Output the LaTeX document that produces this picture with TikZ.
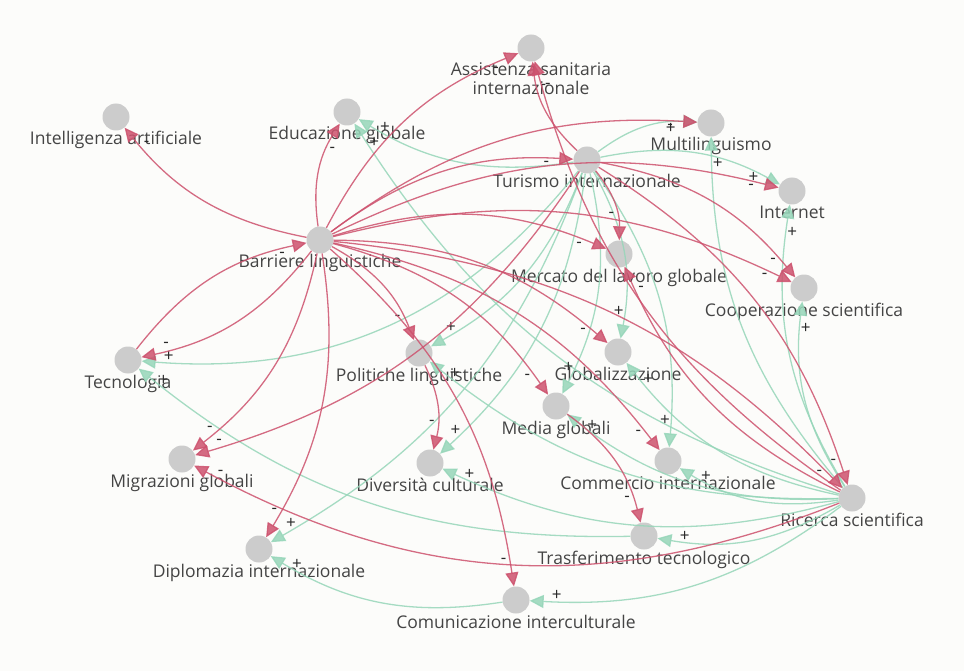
\documentclass[tikz,border=0pt]{standalone}
\usepackage{fontspec}
\setmainfont{Open Sans}
\usetikzlibrary{arrows.meta,decorations.markings}
\definecolor{bgc}{RGB}{252,252,250}
\definecolor{redE}{RGB}{205,82,110}
\definecolor{grnE}{RGB}{150,214,185}
\definecolor{nodeC}{RGB}{204,204,204}
\definecolor{txtC}{RGB}{68,68,68}
\definecolor{sgnC}{RGB}{40,40,40}
\begin{document}
\begin{tikzpicture}[x=1pt,y=-1pt,
  dot/.style={circle,fill=nodeC,minimum size=27pt,inner sep=0pt},
  lbl/.style={anchor=base,text=txtC,font=\fontsize{17.5}{20}\selectfont,inner sep=0pt},
  sgnt/.style={text=sgnC,font=\fontsize{17}{17}\selectfont,inner sep=0pt,text opacity=1},
  edgeb/.style={line width=1.3pt,-{Triangle[length=14pt,width=13pt]},opacity=0.85},
  sg/.style={postaction={decorate,decoration={markings,mark=at position -27pt with {\node[sgnt] at (0pt,-6pt) {#1};}}}},
  minuse/.style={edgeb,draw=redE,sg=-},
  pluse/.style={edgeb,draw=grnE,sg=+},
  bl/.style={bend left=#1}, bl/.default=20]
\fill[bgc] (0,0) rectangle (964,671);
\useasboundingbox (0,0) rectangle (964,671);
% nodes
\node[dot] (AS) at (531,48) {};
\node[dot] (IA) at (116,117) {};
\node[dot] (EG) at (347,112) {};
\node[dot] (ML) at (711,123) {};
\node[dot] (TI) at (587,160) {};
\node[dot] (IN) at (792,191) {};
\node[dot] (BL) at (320,240) {};
\node[dot] (MG) at (619,254) {};
\node[dot] (CS) at (804,288) {};
\node[dot] (TE) at (128,360) {};
\node[dot] (PL) at (419,353) {};
\node[dot] (GL) at (618,352) {};
\node[dot] (ME) at (556,406) {};
\node[dot] (MI) at (182,459) {};
\node[dot] (DC) at (430,463) {};
\node[dot] (CI) at (668,461) {};
\node[dot] (RS) at (852,498) {};
\node[dot] (TT) at (644,536) {};
\node[dot] (DI) at (259,549) {};
\node[dot] (CO) at (516,600) {};
% labels
\node[lbl] (AS-t1) at (531,76) {Assistenza sanitaria};
\node[lbl] (AS-t2) at (531,95) {internazionale};
\node[lbl] (IA-t) at (116,145) {Intelligenza artificiale};
\node[lbl] (EG-t) at (347,140) {Educazione globale};
\node[lbl] (ML-t) at (711,151) {Multilinguismo};
\node[lbl] (TI-t) at (587,188) {Turismo internazionale};
\node[lbl] (IN-t) at (792,219) {Internet};
\node[lbl] (BL-t) at (320,268) {Barriere linguistiche};
\node[lbl] (MG-t) at (619,282) {Mercato del lavoro globale};
\node[lbl] (CS-t) at (804,316) {Cooperazione scientifica};
\node[lbl] (TE-t) at (128,388) {Tecnologia};
\node[lbl] (PL-t) at (419,381) {Politiche linguistiche};
\node[lbl] (GL-t) at (618,380) {Globalizzazione};
\node[lbl] (ME-t) at (556,434) {Media globali};
\node[lbl] (MI-t) at (182,487) {Migrazioni globali};
\node[lbl] (DC-t) at (430,491) {Diversità culturale};
\node[lbl] (CI-t) at (668,489) {Commercio internazionale};
\node[lbl] (RS-t) at (852,526) {Ricerca scientifica};
\node[lbl] (TT-t) at (644,564) {Trasferimento tecnologico};
\node[lbl] (DI-t) at (259,577) {Diplomazia internazionale};
\node[lbl] (CO-t) at (516,628) {Comunicazione interculturale};
% green edges
\draw[pluse] (TI) to[bl] (EG);
\draw[pluse] (RS) to[bl] (EG);
\draw[pluse] (TI) to[bl] (ML);
\draw[pluse] (RS) to[bl] (ML);
\draw[pluse] (TI) to[bl] (IN);
\draw[pluse] (RS) to[bl] (IN);
\draw[pluse] (RS) to[bl] (CS);
\draw[pluse] (TI) to[bl=28] (TE);
\draw[pluse] (TT) to[bl] (TE);
\draw[pluse] (TI) to[bl] (PL);
\draw[pluse] (RS) to[bl] (PL);
\draw[pluse] (TI) to[bl] (GL);
\draw[pluse] (RS) to[bl] (GL);
\draw[pluse] (TI) to[bl] (ME);
\draw[pluse] (RS) to[bl] (ME);
\draw[pluse] (TI) to[bl] (DC);
\draw[pluse] (RS) to[bl] (DC);
\draw[pluse] (TI) to[bl] (CI);
\draw[pluse] (RS) to[bl] (CI);
\draw[pluse] (RS) to[bl] (TT);
\draw[pluse] (RS) to[bl] (CO);
\draw[pluse] (CO) to[bl] (DI);
\draw[pluse] (TI) to[bl] (DI);
% red edges
\draw[minuse] (BL) to[bl] (IA);
\draw[minuse] (TE) to[bl] (BL);
\draw[minuse] (BL) to[bl] (TE);
\draw[minuse] (BL) to[bl] (EG);
\draw[minuse] (BL) to[bl] (AS);
\draw[minuse] (BL) to[bl] (ML);
\draw[minuse] (BL) to[bl] (TI);
\draw[minuse] (BL) to[bl] (IN);
\draw[minuse] (BL) to[bl] (MG);
\draw[minuse] (BL) to[bl] (CS);
\draw[minuse] (BL) to[bl] (GL);
\draw[minuse] (BL) to[bl] (PL);
\draw[minuse] (BL) to[bl] (ME);
\draw[minuse] (BL) to[bl] (CI);
\draw[minuse] (BL) to[bl] (MI);
\draw[minuse] (BL) to[bl] (DI);
\draw[minuse] (BL) to[bl] (CO);
\draw[minuse] (BL) to[bl] (RS);
\draw[minuse] (TI) to[bl] (AS);
\draw[minuse] (TI) to[bl] (MG);
\draw[minuse] (TI) to[bl] (CS);
\draw[minuse] (TI) to[bl] (MI);
\draw[minuse] (TI) to[bl] (RS);
\draw[minuse] (PL) to[bl] (DC);
\draw[minuse] (ME) to[bl] (TT);
\draw[minuse] (RS) to[bl=25] (MI);
\draw[minuse] (RS) to[bl] (MG);
\draw[minuse] (RS) to[bl] (AS);
\end{tikzpicture}
\end{document}
